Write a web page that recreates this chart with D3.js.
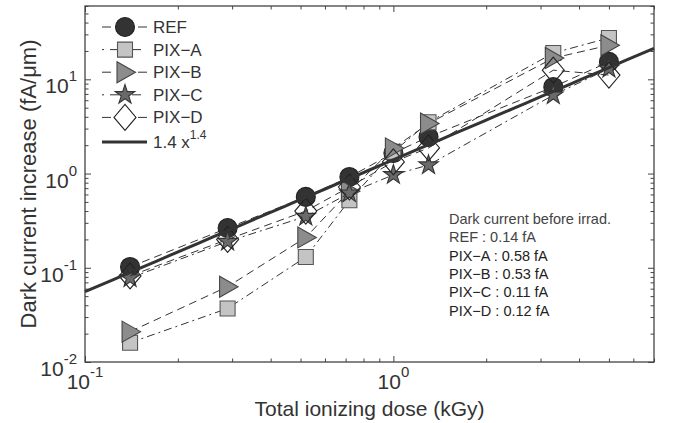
<!DOCTYPE html>
<html>
<head>
<meta charset="utf-8">
<script src="https://cdn.jsdelivr.net/npm/d3@7"></script>
<style>
  body { margin: 0; background: #fff; }
  svg { font-family: "Liberation Sans", Arial, sans-serif; }
</style>
</head>
<body>
<div id="chart"></div>
<script>
// ---- data ----
const DOSE = [0.14, 0.29, 0.52, 0.72, 1.0, 1.3, 3.3, 5.0];
const REF   = [0.102, 0.264, 0.565, 0.92, 1.65, 2.45, 8.3, 15.3];
const PIX_A = [0.016, 0.037, 0.13, 0.52, 1.7, 3.5, 19, 27.5];
const PIX_B = [0.021, 0.063, 0.21, 0.65, 1.85, 3.4, 16.8, 23];
const PIX_C = [0.078, 0.19, 0.35, 0.62, 0.97, 1.23, 6.8, 13];
const PIX_D = [0.082, 0.2, 0.4, 0.72, 1.33, 1.87, 12.5, 11.1];
const SERIES_NAMES = ["REF", "PIX\u2212A", "PIX\u2212B", "PIX\u2212C", "PIX\u2212D"];
const FIT_COEF = 1.4, FIT_EXP = 1.4;
const X_DOMAIN = [0.1, 7];
const Y_DOMAIN = [0.01, 60];
const X_MAJOR = [0.1, 1];
const Y_MAJOR = [0.01, 0.1, 1, 10];
const NOTE_LINES = [
  "Dark current before irrad.",
  "REF : 0.14 fA",
  "PIX\u2212A : 0.58 fA",
  "PIX\u2212B : 0.53 fA",
  "PIX\u2212C : 0.11 fA",
  "PIX\u2212D : 0.12 fA"
];

const W = 673, H = 423;
const margin = { top: 6, right: 19, bottom: 61, left: 85 };
const width = W - margin.left - margin.right;
const height = H - margin.top - margin.bottom;

const svg = d3.select("#chart").append("svg")
  .attr("width", W).attr("height", H);
const g = svg.append("g")
  .attr("transform", `translate(${margin.left},${margin.top})`);

const x = d3.scaleLog().domain(X_DOMAIN).range([0, width]);
const y = d3.scaleLog().domain(Y_DOMAIN).range([height, 0]);

// minor tick values for each decade
function minors(domain) {
  const out = [];
  for (let e = -3; e <= 2; e++) {
    for (let k = 1; k <= 9; k++) {
      const v = k * Math.pow(10, e);
      if (v >= domain[0] * 0.999 && v <= domain[1] * 1.001) out.push(v);
    }
  }
  return out;
}
const xMinor = minors(X_DOMAIN).filter(v => !X_MAJOR.includes(v));
const yMinor = minors(Y_DOMAIN).filter(v => !Y_MAJOR.some(m => Math.abs(m - v) < 1e-9));

const axisColor = "#444";
function styleAxis(sel) {
  sel.select(".domain").remove();
  sel.selectAll("line").attr("stroke", axisColor).attr("stroke-width", 1);
}

// inward ticks, mirrored on all four sides
g.append("g").attr("transform", `translate(0,${height})`)
  .call(d3.axisBottom(x).tickValues(X_MAJOR).tickSize(-6).tickFormat("")).call(styleAxis);
g.append("g").attr("transform", `translate(0,${height})`)
  .call(d3.axisBottom(x).tickValues(xMinor).tickSize(-3.5).tickFormat("")).call(styleAxis);
g.append("g")
  .call(d3.axisTop(x).tickValues(X_MAJOR).tickSize(-6).tickFormat("")).call(styleAxis);
g.append("g")
  .call(d3.axisTop(x).tickValues(xMinor).tickSize(-3.5).tickFormat("")).call(styleAxis);
g.append("g")
  .call(d3.axisLeft(y).tickValues(Y_MAJOR).tickSize(-6).tickFormat("")).call(styleAxis);
g.append("g")
  .call(d3.axisLeft(y).tickValues(yMinor).tickSize(-3.5).tickFormat("")).call(styleAxis);
g.append("g").attr("transform", `translate(${width},0)`)
  .call(d3.axisRight(y).tickValues(Y_MAJOR).tickSize(-6).tickFormat("")).call(styleAxis);
g.append("g").attr("transform", `translate(${width},0)`)
  .call(d3.axisRight(y).tickValues(yMinor).tickSize(-3.5).tickFormat("")).call(styleAxis);

g.append("rect")
  .attr("width", width).attr("height", height)
  .attr("fill", "none").attr("stroke", axisColor).attr("stroke-width", 1.3);

// tick labels: 10^n
function powLabel(sel, v) {
  const e = Math.round(Math.log10(v));
  sel.append("tspan").text("10");
  sel.append("tspan").attr("dy", -12).attr("font-size", 15).text(String(e));
}
X_MAJOR.forEach(v => {
  g.append("text")
    .attr("x", x(v)).attr("y", height + 27)
    .attr("text-anchor", "middle")
    .attr("font-size", 21).attr("fill", "#333")
    .call(powLabel, v);
});
Y_MAJOR.forEach(v => {
  g.append("text")
    .attr("x", -8).attr("y", y(v) + 14)
    .attr("text-anchor", "end")
    .attr("font-size", 21).attr("fill", "#333")
    .call(powLabel, v);
});

// axis titles
g.append("text")
  .attr("x", width / 2).attr("y", height + 54)
  .attr("text-anchor", "middle")
  .attr("font-size", 21).attr("fill", "#333")
  .text("Total ionizing dose (kGy)");
g.append("text")
  .attr("transform", `translate(-49,${height / 2}) rotate(-90)`)
  .attr("text-anchor", "middle")
  .attr("font-size", 22).attr("fill", "#333")
  .text("Dark current increase (fA/\u03bcm)");

// ---- markers ----
const markerPaths = {
  circle: d3.symbol(d3.symbolCircle, Math.PI * 9.5 * 9.5)(),
  square: "M-7.5,-7.5H7.5V7.5H-7.5Z",
  triangle: "M-8,-10.5L10.5,0L-8,10.5Z",
  star: d3.symbol(d3.symbolStar, 118)(),
  diamond: "M0,-13L11,0L0,13L-11,0Z"
};

const series = [
  { name: SERIES_NAMES[0], values: REF,   shape: "circle",   fill: "#333",    stroke: "#222", dash: "8,5" },
  { name: SERIES_NAMES[1], values: PIX_A, shape: "square",   fill: "#c4c4c4", stroke: "#555", dash: "8,4,2,4" },
  { name: SERIES_NAMES[2], values: PIX_B, shape: "triangle", fill: "#8c8c8c", stroke: "#444", dash: "8,5" },
  { name: SERIES_NAMES[3], values: PIX_C, shape: "star",     fill: "#6a6a6a", stroke: "#333", dash: "8,4,2,4" },
  { name: SERIES_NAMES[4], values: PIX_D, shape: "diamond",  fill: "none",    stroke: "#222", dash: "8,5" }
];

const plot = g.append("g");
const line = d3.line().x(d => x(d[0])).y(d => y(d[1]));

series.forEach(s => {
  const pts = DOSE.map((d, i) => [d, s.values[i]]);
  plot.append("path")
    .attr("d", line(pts))
    .attr("fill", "none")
    .attr("stroke", "#333")
    .attr("stroke-width", 1)
    .attr("stroke-dasharray", s.dash);
  plot.selectAll(null).data(pts).enter().append("path")
    .attr("d", markerPaths[s.shape])
    .attr("transform", d => `translate(${x(d[0])},${y(d[1])})`)
    .attr("fill", s.fill)
    .attr("stroke", s.stroke)
    .attr("stroke-width", 1.1);
});

// power-law fit 1.4 x^1.4
const fitX = d3.range(0, 41).map(i => X_DOMAIN[0] * Math.pow(X_DOMAIN[1] / X_DOMAIN[0], i / 40));
plot.append("path")
  .attr("d", line(fitX.map(v => [v, FIT_COEF * Math.pow(v, FIT_EXP)])))
  .attr("fill", "none")
  .attr("stroke", "#333")
  .attr("stroke-width", 3);

// ---- legend ----
const legend = svg.append("g").attr("transform", "translate(102,27)");
const rowGap = 22.6;
series.forEach((s, i) => {
  const row = legend.append("g").attr("transform", `translate(0,${i * rowGap})`);
  row.append("line")
    .attr("x1", 0).attr("x2", 45)
    .attr("stroke", "#333").attr("stroke-width", 1)
    .attr("stroke-dasharray", s.dash === "8,5" ? "9,27" : "2,6,9,13,9,6,2");
  row.append("path")
    .attr("d", markerPaths[s.shape])
    .attr("transform", "translate(23,0)")
    .attr("fill", s.fill).attr("stroke", s.stroke).attr("stroke-width", 1.1);
  row.append("text")
    .attr("x", 51).attr("y", 6)
    .attr("font-size", 17).attr("fill", "#333")
    .text(s.name);
});
const fitRow = legend.append("g").attr("transform", `translate(0,${5 * rowGap + 2})`);
fitRow.append("line")
  .attr("x1", 0).attr("x2", 45)
  .attr("stroke", "#333").attr("stroke-width", 3);
const fitText = fitRow.append("text")
  .attr("x", 51).attr("y", 6)
  .attr("font-size", 17).attr("fill", "#333");
fitText.append("tspan").text(`${FIT_COEF} x`);
fitText.append("tspan").attr("dy", -9).attr("font-size", 12).text(String(FIT_EXP));

// ---- note ----
const note = svg.append("g").attr("transform", "translate(449,224)");
NOTE_LINES.forEach((t, i) => {
  note.append("text")
    .attr("x", 0).attr("y", i * 18.3)
    .attr("font-size", 14.5)
    .attr("fill", i < 2 ? "#444" : "#222")
    .text(t);
});
</script>
</body>
</html>
